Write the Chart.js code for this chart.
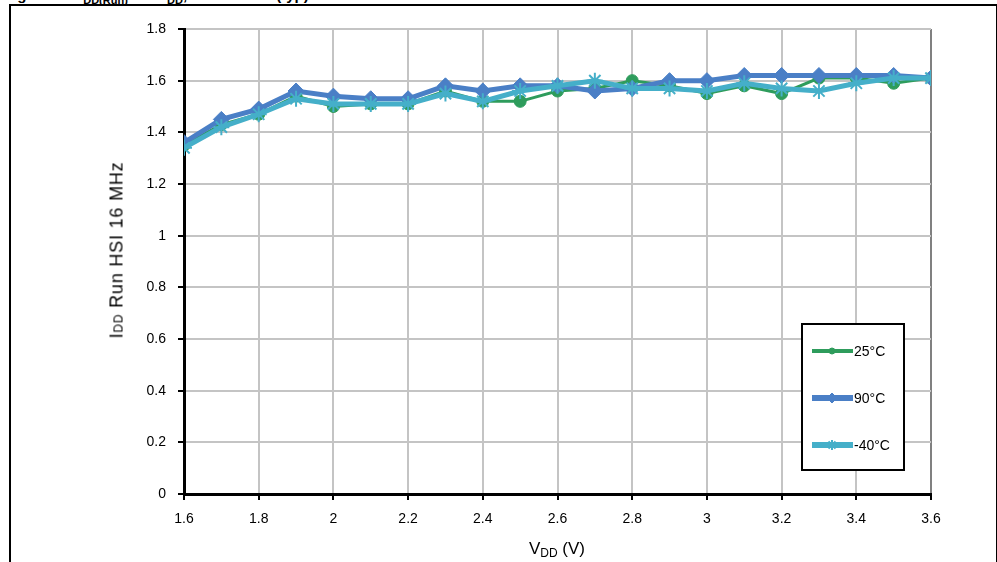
<!DOCTYPE html>
<html>
<head>
<meta charset="utf-8">
<script src="https://cdn.jsdelivr.net/npm/chart.js@4.4.1/dist/chart.umd.min.js"></script>
<style>
  html, body { margin: 0; padding: 0; background: #fff; }
  body { width: 997px; height: 562px; position: relative; overflow: hidden; font-family: "Liberation Sans", Arial, sans-serif; }
  #frame { position: absolute; left: 9px; top: 4px; width: 985px; height: 620px; border: 2px solid #000; }
  #fig-title { position: absolute; left: 4px; top: -14px; font-size: 15px; font-weight: bold; white-space: nowrap; }
  #fig-title sub { font-size: 11px; }
  #chart { position: absolute; left: 0; top: 0; }
  #x-title { position: absolute; left: 0; width: 1114px; top: 539px; text-align: center; font-size: 17px; }
  #x-title sub { font-size: 12px; vertical-align: -3px; }
  #y-title { position: absolute; left: 117px; top: 250px; transform: translate(-50%, -50%) rotate(-90deg); font-size: 18px; white-space: nowrap; letter-spacing: 0.8px; }
  #y-title small { font-size: 12px; }
</style>
</head>
<body>
<div id="frame"></div>
<div id="fig-title">Figure 26. I<sub>DD(Run)</sub> vs. V<sub>DD</sub>, HSI 16 MHz (typ)</div>
<canvas id="chart" width="997" height="562"></canvas>
<div id="x-title">V<sub>DD</sub> (V)</div>
<div id="y-title">I<small>DD</small> Run HSI 16 MHz</div>
<script>
const palette = {
  green: "#2e9c5c",
  blue: "#4a7fc6",
  cyan: "#45afc9",
  grid: "#c4c4c4",
  edge: "#808080",
};

const vdd = [1.6, 1.7, 1.8, 1.9, 2.0, 2.1, 2.2, 2.3, 2.4, 2.5, 2.6, 2.7, 2.8, 2.9, 3.0, 3.1, 3.2, 3.3, 3.4, 3.5, 3.6];
const idd25 = [1.35, 1.43, 1.47, 1.54, 1.50, 1.51, 1.51, 1.56, 1.52, 1.52, 1.56, 1.57, 1.60, 1.58, 1.55, 1.58, 1.55, 1.61, 1.61, 1.59, 1.61];
const idd90 = [1.36, 1.45, 1.49, 1.56, 1.54, 1.53, 1.53, 1.58, 1.56, 1.58, 1.58, 1.56, 1.57, 1.60, 1.60, 1.62, 1.62, 1.62, 1.62, 1.62, 1.61];
const iddM40 = [1.34, 1.42, 1.47, 1.53, 1.51, 1.51, 1.51, 1.55, 1.52, 1.56, 1.58, 1.60, 1.57, 1.57, 1.56, 1.59, 1.57, 1.56, 1.59, 1.61, 1.61];
const seriesLabels = ["25°C", "90°C", "-40°C"];

const points = (values) => values.map((y, i) => ({ x: vdd[i], y }));
const tickText = (value) => String(Math.round(value * 10) / 10);
const fontFamily = "'Liberation Sans', Arial, sans-serif";

// legend box drawn inside the plot, like the original
const boxLegend = {
  id: "boxLegend",
  afterDraw(chart) {
    const { ctx } = chart;
    const left = 802, top = 324, width = 102, height = 146;
    ctx.save();
    ctx.fillStyle = "#fff";
    ctx.fillRect(left, top, width, height);
    ctx.strokeStyle = "#000";
    ctx.lineWidth = 2;
    ctx.strokeRect(left, top, width, height);
    chart.data.datasets.forEach((dataset, index) => {
      const y = top + 27 + index * 47;
      ctx.strokeStyle = dataset.borderColor;
      ctx.lineWidth = dataset.borderWidth + 1;
      ctx.beginPath();
      ctx.moveTo(left + 10, y);
      ctx.lineTo(left + 51, y);
      ctx.stroke();
      ctx.fillStyle = dataset.borderColor;
      ctx.lineWidth = dataset.pointBorderWidth;
      Chart.helpers.drawPoint(ctx, {
        pointStyle: dataset.pointStyle,
        radius: dataset.pointRadius - 3,
        borderWidth: dataset.pointBorderWidth,
      }, left + 30, y);
      ctx.fillStyle = "#000";
      ctx.font = `14px ${fontFamily}`;
      ctx.textBaseline = "middle";
      ctx.fillText(dataset.label, left + 52, y + 1);
    });
    ctx.restore();
  },
};

function colors(color) {
  return { borderColor: color, backgroundColor: color, pointBorderColor: color, pointBackgroundColor: color };
}

new Chart(document.querySelector("#chart"), {
  type: "line",
  data: {
    datasets: [
      {
        label: seriesLabels[0],
        data: points(idd25),
        ...colors(palette.green),
        borderWidth: 3,
        pointStyle: "circle",
        pointRadius: 6,
        pointBorderWidth: 1,
        order: 3,
      },
      {
        label: seriesLabels[1],
        data: points(idd90),
        ...colors(palette.blue),
        borderWidth: 5,
        pointStyle: "rectRot",
        pointRadius: 8,
        pointBorderWidth: 1,
        order: 2,
      },
      {
        label: seriesLabels[2],
        data: points(iddM40),
        ...colors(palette.cyan),
        borderWidth: 5,
        pointStyle: "star",
        pointRadius: 8,
        pointBorderWidth: 2,
        order: 1,
      },
    ],
  },
  options: {
    responsive: false,
    animation: false,
    layout: { padding: { top: 29, right: 66, left: 0, bottom: 0 } },
    plugins: { legend: { display: false }, tooltip: { enabled: false } },
    elements: { line: { tension: 0 } },
    scales: {
      x: {
        type: "linear",
        min: 1.6,
        max: 3.6,
        afterFit: (scale) => { scale.height = 68; },
        ticks: {
          stepSize: 0.2,
          padding: 11,
          color: "#000",
          font: { family: fontFamily, size: 14 },
          callback: tickText,
        },
        grid: {
          color: (c) => (c.index === 10 ? palette.edge : palette.grid),
          lineWidth: 2,
          tickColor: "#000",
          tickLength: 6,
        },
        border: { color: "#000", width: 3 },
      },
      y: {
        min: 0,
        max: 1.8,
        afterFit: (scale) => { scale.width = 184; },
        ticks: {
          stepSize: 0.2,
          padding: 12,
          color: "#000",
          font: { family: fontFamily, size: 14 },
          callback: tickText,
        },
        grid: {
          color: palette.grid,
          lineWidth: 2,
          tickColor: "#000",
          tickLength: 6,
        },
        border: { color: "#000", width: 3 },
      },
    },
  },
  plugins: [boxLegend],
});
</script>
</body>
</html>
